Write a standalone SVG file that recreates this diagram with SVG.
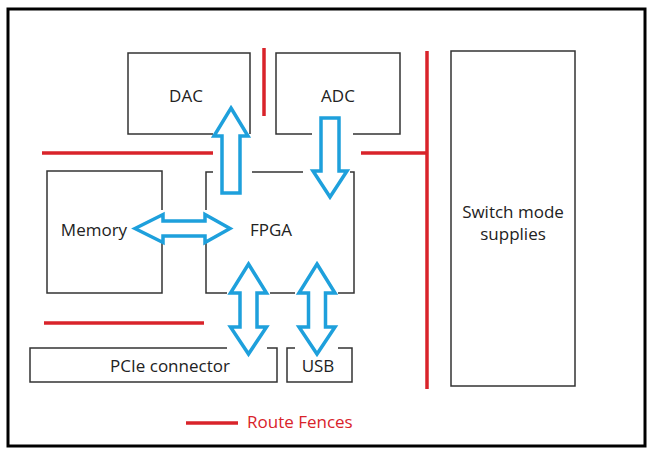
<svg xmlns="http://www.w3.org/2000/svg" width="650" height="453" viewBox="0 0 650 453">
<style>
.box{fill:none;stroke:#333;stroke-width:1.5}
.fence{stroke:#d9232a;stroke-width:3.5;fill:none}
.arrow{fill:#fff;stroke:#1ea0dc;stroke-width:3.5;stroke-linejoin:miter}
.lbl{font-family:"Open Sans","DejaVu Sans",sans-serif;font-size:17px;fill:#222;text-anchor:middle}
</style>
<rect x="0" y="0" width="650" height="453" fill="#fff"/>
<rect x="8" y="9" width="637" height="437" fill="none" stroke="#000" stroke-width="3"/>
<g id="fences">
<line class="fence" x1="264" y1="48" x2="264" y2="116"/>
<line class="fence" x1="42" y1="153" x2="213" y2="153"/>
<line class="fence" x1="361" y1="153" x2="427" y2="153"/>
<line class="fence" x1="427" y1="51" x2="427" y2="389"/>
<line class="fence" x1="44" y1="323" x2="204" y2="323"/>
</g>
<g id="dac">
<path class="box" d="M213,134 H128 V53 H250 V134"/>
<text class="lbl" x="186" y="102">DAC</text>
</g>
<g id="adc">
<path class="box" d="M312,134 H276 V53 H400 V134 H353"/>
<text class="lbl" x="338" y="102">ADC</text>
</g>
<g id="memory">
<path class="box" d="M162,210 V171 H47 V293 H162 V243"/>
<text class="lbl" x="94" y="236">Memory</text>
</g>
<g id="fpga">
<path class="box" d="M213,172 H206 V210 M206,243 V293 H227 M270,293 H295 M338,293 H354 V172 H350 M303,172 H252"/>
<text class="lbl" x="271" y="236">FPGA</text>
</g>
<g id="pcie">
<path class="box" d="M227,348 H30 V382 H277 V348 H267"/>
<text class="lbl" x="170" y="372">PCIe connector</text>
</g>
<g id="usb">
<path class="box" d="M295,348 H287 V382 H352 V348 H338"/>
<text class="lbl" x="318" y="372">USB</text>
</g>
<g id="switch">
<rect class="box" x="451" y="51" width="124" height="335"/>
<text class="lbl" x="513" y="218">Switch mode</text>
<text class="lbl" x="513" y="240">supplies</text>
</g>
<g id="connectors">
<polygon class="arrow" points="231,108 248,136 240,136 240,193 222,193 222,136 214,136"/>
<polygon class="arrow" points="321,118 339,118 339,171 347,171 330,197 313,171 321,171"/>
<polygon class="arrow" points="135,228.5 163,214.5 163,221 205,221 205,214.5 230,228.5 205,242.5 205,236 163,236 163,242.5"/>
<polygon class="arrow" points="248.5,264 266.5,293 257,293 257,327 266.5,327 248.5,354 230.5,327 240,327 240,293 230.5,293"/>
<polygon class="arrow" points="317,264 335,293 325.5,293 325.5,327 335,327 317,354 299,327 308.5,327 308.5,293 299,293"/>
</g>
<g id="legend">
<line class="fence" x1="186" y1="423" x2="238" y2="423"/>
<text x="247" y="428" font-family="Open Sans, DejaVu Sans, sans-serif" font-size="17" fill="#d9232a">Route Fences</text>
</g>
</svg>
